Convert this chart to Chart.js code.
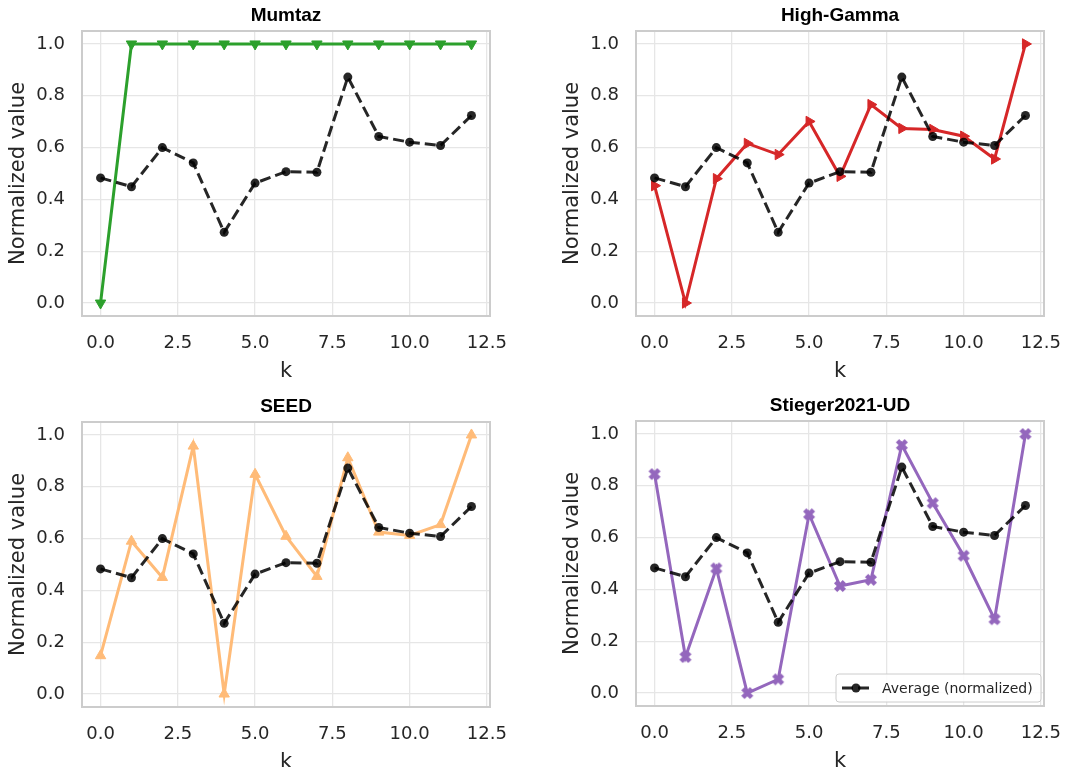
<!DOCTYPE html>
<html lang="en">
<head>
<meta charset="UTF-8">
<title>Normalized value per k</title>
<script src="https://cdn.jsdelivr.net/npm/chart.js@4.4.0/dist/chart.umd.min.js"></script>
<style>
  body { margin: 0; background: #fff; }
  #wrap { position: relative; width: 1068px; height: 767px; overflow: hidden; }
  #wrap canvas { position: absolute; }
</style>
</head>
<body>
<div id="wrap">
  <canvas id="c1" width="534" height="384" style="left:0;top:0"></canvas>
  <canvas id="c2" width="534" height="384" style="left:554px;top:0"></canvas>
  <canvas id="c3" width="534" height="384" style="left:0;top:391px"></canvas>
  <canvas id="c4" width="534" height="384" style="left:554px;top:390px"></canvas>
</div>
<script>
// data
const kValues = [0, 1, 2, 3, 4, 5, 6, 7, 8, 9, 10, 11, 12];
const average = [0.483, 0.449, 0.600, 0.541, 0.273, 0.463, 0.507, 0.505, 0.872, 0.643, 0.621, 0.608, 0.724];
const mumtaz = [0.0, 1.0, 1.0, 1.0, 1.0, 1.0, 1.0, 1.0, 1.0, 1.0, 1.0, 1.0, 1.0];
const highGamma = [0.453, 0.0, 0.480, 0.616, 0.573, 0.701, 0.489, 0.766, 0.674, 0.670, 0.644, 0.556, 1.0];
const seed = [0.148, 0.590, 0.450, 0.957, 0.0, 0.848, 0.609, 0.454, 0.912, 0.625, 0.612, 0.654, 1.0];
const stieger = [0.845, 0.139, 0.481, 0.0, 0.053, 0.690, 0.413, 0.437, 0.957, 0.733, 0.530, 0.285, 1.0];
const xTicks = [0, 2.5, 5, 7.5, 10, 12.5];
const yTicks = [0, 0.2, 0.4, 0.6, 0.8, 1.0];
const avgLabel = 'Average (normalized)';

const avgColor = 'rgba(0,0,0,0.85)';
const textColor = '#262626';

Chart.defaults.font.family = '"DejaVu Sans", sans-serif';
Chart.defaults.color = textColor;

// filled "X" marker like matplotlib's 'X'
function makeX(color) {
  const c = document.createElement('canvas');
  c.width = 14; c.height = 14;
  const g = c.getContext('2d');
  const a = 6.2, w = 2.3;
  g.translate(7, 7);
  g.rotate(Math.PI / 4);
  g.beginPath();
  const pts = [[-w,-a],[w,-a],[w,-w],[a,-w],[a,w],[w,w],[w,a],[-w,a],[-w,w],[-a,w],[-a,-w],[-w,-w]];
  pts.forEach((p, i) => i ? g.lineTo(p[0], p[1]) : g.moveTo(p[0], p[1]));
  g.closePath();
  g.fillStyle = color;
  g.fill();
  return c;
}

const framePlugin = {
  id: 'frame',
  beforeDatasetsDraw(chart) {
    const {ctx, chartArea: a} = chart;
    ctx.save();
    ctx.strokeStyle = '#cccccc';
    ctx.lineWidth = 2;
    ctx.strokeRect(a.left, a.top, a.right - a.left, a.bottom - a.top);
    ctx.restore();
  }
};

const avgLegend = {
  id: 'avgLegend',
  afterDatasetsDraw(chart) {
    const {ctx, chartArea: a} = chart;
    const w = 205, h = 28;
    const x = a.right - 3 - w, y = a.bottom - 4 - h;
    ctx.save();
    ctx.beginPath();
    ctx.roundRect(x, y, w, h, 3);
    ctx.fillStyle = 'rgba(255,255,255,0.85)';
    ctx.fill();
    ctx.strokeStyle = '#cccccc';
    ctx.lineWidth = 1;
    ctx.stroke();
    const cy = y + h / 2;
    ctx.strokeStyle = avgColor;
    ctx.lineWidth = 3;
    ctx.setLineDash([11, 5]);
    ctx.beginPath();
    ctx.moveTo(x + 6, cy);
    ctx.lineTo(x + 34, cy);
    ctx.stroke();
    ctx.setLineDash([]);
    ctx.fillStyle = avgColor;
    ctx.beginPath();
    ctx.arc(x + 20, cy, 4.5, 0, Math.PI * 2);
    ctx.fill();
    ctx.font = '14px "DejaVu Sans"';
    ctx.fillStyle = textColor;
    ctx.textBaseline = 'middle';
    ctx.fillText(avgLabel, x + 46, cy + 1);
    ctx.restore();
  }
};

function pts(values) {
  return kValues.map((k, i) => ({x: k, y: values[i]}));
}

function makeChart(id, title, values, color, pointStyle, rotation, withLegend) {
  new Chart(document.getElementById(id), {
    type: 'line',
    data: {
      datasets: [
        {
          label: avgLabel,
          data: pts(average),
          borderColor: avgColor,
          backgroundColor: avgColor,
          borderWidth: 3,
          borderDash: [11, 5],
          pointStyle: 'circle',
          pointRadius: 4.5,
          pointBorderWidth: 0,
          tension: 0
        },
        {
          label: title,
          data: pts(values),
          borderColor: color,
          backgroundColor: color,
          borderWidth: 3,
          pointStyle: pointStyle,
          pointRotation: rotation,
          pointRadius: 6,
          pointBorderWidth: 1,
          tension: 0
        }
      ]
    },
    options: {
      responsive: false,
      animation: false,
      layout: { padding: { left: 6, right: 44, top: 0, bottom: 0 } },
      plugins: {
        legend: { display: false },
        tooltip: { enabled: false },
        title: {
          display: true,
          fullSize: false,
          text: title,
          color: '#000',
          font: { family: '"Liberation Sans", Arial, sans-serif', size: 19, weight: 'bold', lineHeight: 1.2 },
          padding: { top: 4, bottom: 4.2 }
        }
      },
      scales: {
        x: {
          type: 'linear',
          min: -0.6,
          max: 12.6,
          afterBuildTicks: (s) => { s.ticks = xTicks.map(v => ({value: v})); },
          afterFit: (s) => { s.height = 68; },
          ticks: { font: { size: 18 }, padding: 17, maxRotation: 0, callback: (v) => v.toFixed(1) },
          grid: { color: '#e6e6e6', lineWidth: 1.3, drawTicks: false },
          border: { display: false },
          title: { display: true, text: 'k', font: { size: 21 }, padding: 0 }
        },
        y: {
          min: -0.05,
          max: 1.05,
          afterBuildTicks: (s) => { s.ticks = yTicks.map(v => ({value: v})); },
          afterFit: (s) => { s.width = 76; },
          ticks: { font: { size: 18 }, padding: 17, callback: (v) => v.toFixed(1) },
          grid: { color: '#e6e6e6', lineWidth: 1.3, drawTicks: false },
          border: { display: false },
          title: { display: true, text: 'Normalized value', font: { size: 21 }, padding: 0 }
        }
      }
    },
    plugins: withLegend ? [framePlugin, avgLegend] : [framePlugin]
  });
}

makeChart('c1', 'Mumtaz', mumtaz, '#2ca02c', 'triangle', 180, false);
makeChart('c2', 'High-Gamma', highGamma, '#d62728', 'triangle', 90, false);
makeChart('c3', 'SEED', seed, '#ffbb78', 'triangle', 0, false);
makeChart('c4', 'Stieger2021-UD', stieger, '#9467bd', makeX('#9467bd'), 0, true);
</script>
</body>
</html>
